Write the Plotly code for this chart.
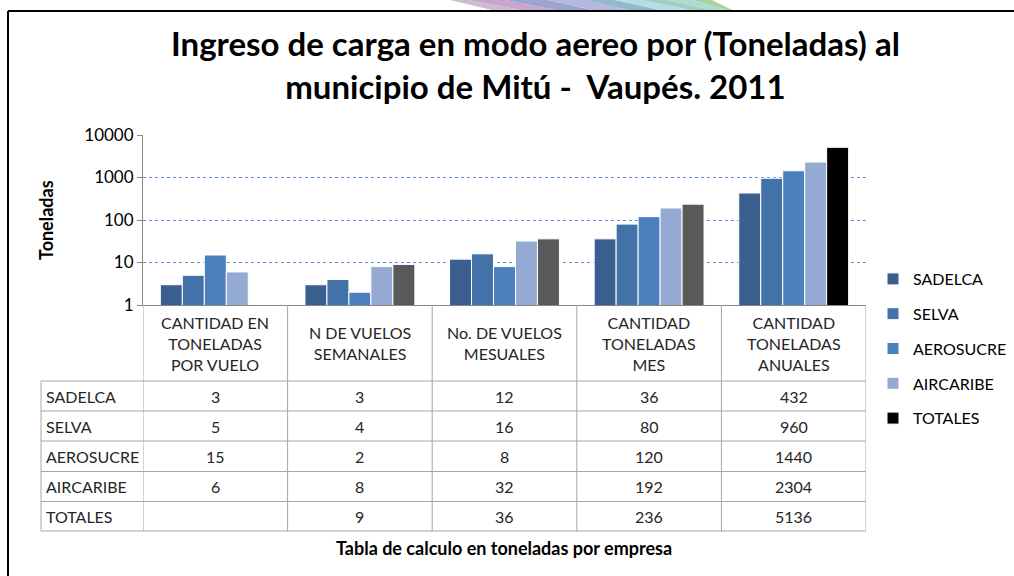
import plotly.graph_objects as go

# ---------------- data ----------------
categories = ["CANTIDAD EN<br>TONELADAS<br>POR VUELO",
              "N DE VUELOS<br>SEMANALES",
              "No. DE VUELOS<br>MESUALES",
              "CANTIDAD<br>TONELADAS<br>MES",
              "CANTIDAD<br>TONELADAS<br>ANUALES"]
series_names = ["SADELCA", "SELVA", "AEROSUCRE", "AIRCARIBE", "TOTALES"]
sadelca = [3, 3, 12, 36, 432]
selva = [5, 4, 16, 80, 960]
aerosucre = [15, 2, 8, 120, 1440]
aircaribe = [6, 8, 32, 192, 2304]
totales = [None, 9, 36, 236, 5136]
y_tick_vals = [1, 10, 100, 1000, 10000]
y_tick_text = ["1", "10", "100", "1000", "10000"]

series_values = [sadelca, selva, aerosucre, aircaribe, totales]
series_colors = ["#3A5F8F", "#4372A9", "#4C7FBD", "#95AAD2",
                 ["#000000", "#595959", "#595959", "#595959", "#000000"]]

FONT = "Lato"

# ---------------- layout geometry (screen pixels) ----------------
W, H = 1014, 576
L, R, T, B = 143, 866, 135, 305   # plot area in screen pixels
PW, PH = R - L, B - T


def px(x):
    return (x - L) / PW


def py(y):
    return (B - y) / PH


xkeys = list(range(len(categories)))

fig = go.Figure()
for name, vals, col in zip(series_names, series_values, series_colors):
    fig.add_trace(go.Bar(
        x=xkeys, y=vals, name=name, legendgroup=name,
        marker=dict(color=col, line=dict(color="white", width=1)),
        hoverinfo="x+y+name",
    ))

shapes = []
annotations = []

# decorative frame
shapes.append(dict(type="line", xref="paper", yref="paper",
                   x0=px(8), x1=px(1014), y0=py(11), y1=py(11),
                   line=dict(color="black", width=2)))
shapes.append(dict(type="line", xref="paper", yref="paper",
                   x0=px(8), x1=px(8), y0=py(11), y1=py(576),
                   line=dict(color="black", width=2)))

# decorative stripes at top
stripe_top = [450, 468, 505, 548, 585, 615, 642, 668, 693, 712]
stripe_bot = [492, 522, 555, 592, 628, 660, 690, 712, 727, 732]
stripe_cols = ["#CDBBD2", "#C8A6CB", "#9BA4CF", "#B4B9DD", "#94B8CC",
               "#B6DCE9", "#A1CFC1", "#AADDD0", "#A7D3A1"]
for i, c in enumerate(stripe_cols):
    pts = [(stripe_top[i], 0), (stripe_top[i + 1], 0),
           (stripe_bot[i + 1], 10), (stripe_bot[i], 10)]
    path = "M " + " L ".join(f"{px(a):.5f},{py(b):.5f}" for a, b in pts) + " Z"
    shapes.append(dict(type="path", xref="paper", yref="paper", path=path,
                       fillcolor=c, line=dict(width=0), layer="below"))

# data table
grid_col = "#A6A6A6"
row_lines = [381, 411, 441, 471.5, 501.5, 531]
for yy in row_lines:
    shapes.append(dict(type="line", xref="paper", yref="paper",
                       x0=px(41), x1=1, y0=py(yy), y1=py(yy),
                       line=dict(color=grid_col, width=1)))
for i in range(len(categories) + 1):
    shapes.append(dict(type="line", xref="x", yref="paper",
                       x0=i - 0.5, x1=i - 0.5, y0=0, y1=py(531),
                       line=dict(color=grid_col, width=1)))
shapes.append(dict(type="line", xref="paper", yref="paper",
                   x0=px(41), x1=px(41), y0=py(381), y1=py(531),
                   line=dict(color=grid_col, width=1)))

TXT = "#262626"
# header text
for i, cat in enumerate(categories):
    annotations.append(dict(x=i, y=py(343), xref="x", yref="paper",
                            text=cat, showarrow=False, xanchor="center",
                            yanchor="middle",
                            font=dict(family=FONT, size=16, color=TXT)))

row_centers = [396, 426, 456, 486.5, 516.5]
for r, (name, vals) in enumerate(zip(series_names, series_values)):
    annotations.append(dict(x=px(44), y=py(row_centers[r]), xref="paper",
                            yref="paper", text=name, showarrow=False,
                            xanchor="left", yanchor="middle",
                            font=dict(family=FONT, size=16, color=TXT)))
    for i, v in enumerate(vals):
        if v is None:
            continue
        annotations.append(dict(x=i, y=py(row_centers[r]), xref="x",
                                yref="paper", text=str(v), showarrow=False,
                                xanchor="center", yanchor="middle",
                                font=dict(family=FONT, size=16, color=TXT)))

# title
annotations.append(dict(x=px(535), y=py(65), xref="paper", yref="paper",
                        text="Ingreso de carga en modo aereo por (Toneladas) al<br>municipio de Mitú -  Vaupés. 2011",
                        showarrow=False, xanchor="center", yanchor="middle",
                        font=dict(family=FONT, size=33, color="#000000",
                                  weight="bold")))
# y axis title
annotations.append(dict(x=px(46), y=py(220), xref="paper", yref="paper",
                        text="<b>Toneladas</b>", textangle=-90, showarrow=False,
                        xanchor="center", yanchor="middle",
                        font=dict(family=FONT, size=18, color="#000000")))
# caption
annotations.append(dict(x=px(504), y=py(548), xref="paper", yref="paper",
                        text="<b>Tabla de calculo en toneladas por empresa</b>",
                        showarrow=False, xanchor="center", yanchor="middle",
                        font=dict(family=FONT, size=18, color="#000000")))

fig.update_layout(
    width=W, height=H,
    margin=dict(l=L, r=W - R, t=T, b=H - B, autoexpand=False),
    paper_bgcolor="white", plot_bgcolor="white",
    barmode="group", bargap=0.24, bargroupgap=0,
    font=dict(family=FONT, size=16, color="#000000"),
    showlegend=True,
    legend=dict(x=px(873), y=py(262), xanchor="left", yanchor="top",
                font=dict(family=FONT, size=16, color="#000000"),
                tracegroupgap=11, traceorder="grouped", maxheight=400,
                bgcolor="rgba(0,0,0,0)"),
    xaxis=dict(showticklabels=False, showgrid=False, zeroline=False,
               showline=True, linecolor="#868686", linewidth=1,
               range=[-0.5, len(categories) - 0.5], fixedrange=True),
    yaxis=dict(type="log", range=[0, 4], tickvals=y_tick_vals,
               ticktext=y_tick_text, showgrid=True, gridcolor="#5B8BD0",
               griddash="dot", gridwidth=1, showline=True,
               linecolor="#868686", linewidth=1, ticks="outside",
               ticklen=5, tickcolor="#868686", zeroline=False,
               tickfont=dict(family=FONT, size=17, color="#000000"),
               fixedrange=True),
    shapes=shapes, annotations=annotations,
)

fig.write_html("out.html",
               config={"displayModeBar": False},
               post_script="document.body.style.margin='0px';"
                           "document.body.style.overflow='hidden';")
